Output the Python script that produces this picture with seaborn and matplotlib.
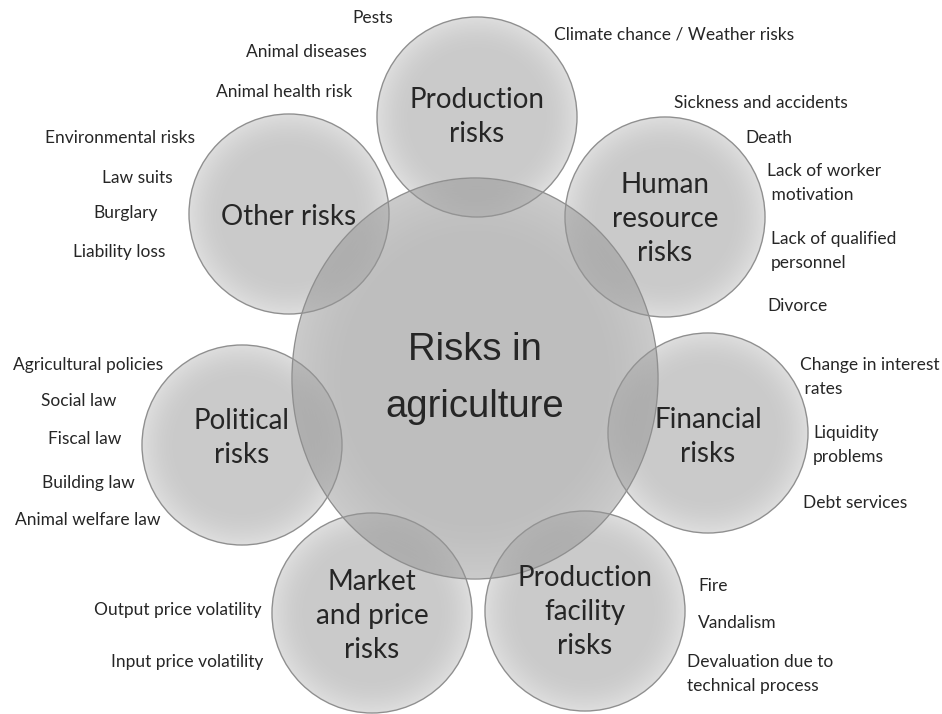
import numpy as np
import matplotlib
matplotlib.use("Agg")
import matplotlib.pyplot as plt
from matplotlib.patches import Ellipse
import seaborn as sns

sns.set_theme(style="white")
plt.rcParams['font.family'] = ['Lato', 'DejaVu Sans']

# diagram content
center_label = "Risks in\nagriculture"
categories = ["Production\nrisks", "Human\nresource\nrisks", "Financial\nrisks",
              "Production\nfacility\nrisks", "Market\nand price\nrisks",
              "Political\nrisks", "Other risks"]
items_production = ["Pests", "Animal diseases", "Animal health risk",
                    "Climate chance / Weather risks"]
items_human = ["Sickness and accidents", "Death", "Lack of worker\n motivation",
               "Lack of qualified\npersonnel", "Divorce"]
items_financial = ["Change in interest\n rates", "Liquidity\nproblems", "Debt services"]
items_facility = ["Fire", "Vandalism", "Devaluation due to\ntechnical process"]
items_market = ["Output price volatility", "Input price volatility"]
items_political = ["Agricultural policies", "Social law", "Fiscal law",
                   "Building law", "Animal welfare law"]
items_other = ["Environmental risks", "Law suits", "Burglary", "Liability loss"]

# layout (pixel positions in a 942 x 714 canvas)
circle_xy = [(477, 117), (665, 217), (708, 433), (585, 611),
             (372, 613), (242, 445), (289, 214)]
circle_r = 100
big_xy, big_w, big_h = (475, 378.5), 366, 401

item_pos = {
    "Pests": (373, 18, "center"),
    "Animal diseases": (306, 52, "center"),
    "Animal health risk": (284, 92, "center"),
    "Climate chance / Weather risks": (674, 34, "center"),
    "Sickness and accidents": (761, 103, "center"),
    "Death": (769, 138, "center"),
    "Lack of worker\n motivation": (767, 183, "left"),
    "Lack of qualified\npersonnel": (771, 251, "left"),
    "Divorce": (767, 306, "left"),
    "Change in interest\n rates": (800, 377, "left"),
    "Liquidity\nproblems": (813, 445, "left"),
    "Debt services": (803, 503, "left"),
    "Fire": (698, 586, "left"),
    "Vandalism": (698, 623, "left"),
    "Devaluation due to\ntechnical process": (687, 674, "left"),
    "Output price volatility": (178, 610, "center"),
    "Input price volatility": (187, 662, "center"),
    "Agricultural policies": (88, 365, "center"),
    "Social law": (79, 401, "center"),
    "Fiscal law": (85, 439, "center"),
    "Building law": (88, 483, "center"),
    "Animal welfare law": (88, 520, "center"),
    "Environmental risks": (120, 138, "center"),
    "Law suits": (137, 178, "center"),
    "Burglary": (126, 213, "center"),
    "Liability loss": (119, 252, "center"),
}
label_offset = [(0, 0), (0, 2), (0, 4), (0, 1), (0, 3), (0, -7), (0, 3)]

fig = plt.figure(figsize=(9.42, 7.14), dpi=100)
ax = fig.add_axes([0, 0, 1, 1])
ax.set_xlim(0, 942)
ax.set_ylim(714, 0)
ax.axis("off")


def gradient_disc(ax, xy, w, h, a_center, a_edge, z):
    n = 400
    t = np.linspace(-1, 1, n)
    xx, yy = np.meshgrid(t, t)
    r = np.sqrt(xx ** 2 + yy ** 2)
    s = np.clip((r - 0.68) / 0.32, 0, 1) ** 1.6
    alpha = a_center + (a_edge - a_center) * s
    alpha *= np.clip((1 - r) * n / 2 + 0.5, 0, 1)
    img = np.zeros((n, n, 4))
    img[..., :3] = 0.59
    img[..., 3] = alpha
    cx, cy = xy
    ax.imshow(img, extent=(cx - w / 2, cx + w / 2, cy + h / 2, cy - h / 2),
              interpolation="bilinear", zorder=z, aspect="auto")
    ax.add_patch(Ellipse(xy, w, h, facecolor="none", edgecolor="#8f8f8f",
                         lw=1.0, zorder=z + 0.5))


for i, xy in enumerate(circle_xy):
    gradient_disc(ax, xy, 2 * circle_r, 2 * circle_r, 0.5, 0.32, 1 + i)
gradient_disc(ax, big_xy, big_w, big_h, 0.62, 0.5, 10)

ax.set_xlim(0, 942)
ax.set_ylim(714, 0)

for i, (lab, xy) in enumerate(zip(categories, circle_xy)):
    dx, dy = label_offset[i]
    ax.text(xy[0] + dx, xy[1] + dy, lab, ha="center", va="center",
            fontsize=20, color="#262626", linespacing=1.37, zorder=20)

ax.text(big_xy[0], big_xy[1], center_label, ha="center", va="center",
        fontsize=27.5, color="#262626", linespacing=1.76, zorder=20,
        family=["Liberation Sans", "DejaVu Sans"])

all_items = (items_production + items_human + items_financial + items_facility
             + items_market + items_political + items_other)
for it in all_items:
    x, y, ha = item_pos[it]
    ax.text(x, y, it, ha=ha, va="center", fontsize=12.5, color="#262626",
            linespacing=1.65, zorder=20)

fig.savefig("out.png", dpi=100, facecolor="white")
